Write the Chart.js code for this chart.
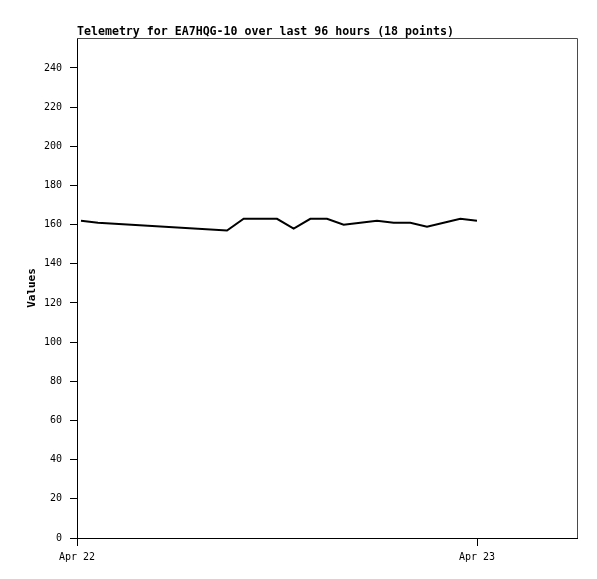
<!DOCTYPE html>
<html>
<head>
<meta charset="utf-8">
<script src="https://cdn.jsdelivr.net/npm/chart.js@4/dist/chart.umd.min.js"></script>
<style>
  html, body { margin: 0; padding: 0; background: #fff; }
  #chart { display: block; }
</style>
</head>
<body>
<canvas id="chart" width="597" height="579"></canvas>
<script>
// hours since Apr 22 00:00
const hours = [0.24, 1.26, 9, 10, 11, 12, 13, 14, 15, 16, 17, 18, 19, 20, 21, 22, 23, 24];
const values = [162, 161, 157, 163, 163, 163, 158, 163, 163, 160, 161, 162, 161, 161, 159, 161, 163, 162];
const xTicks = [0, 24];
const xTickLabels = ['Apr 22', 'Apr 23'];
const yTicks = [0, 20, 40, 60, 80, 100, 120, 140, 160, 180, 200, 220, 240];
const titleText = 'Telemetry for EA7HQG-10 over last 96 hours (18 points)';

const mono = "'DejaVu Sans Mono', monospace";

const framePlugin = {
  id: 'frame',
  afterDraw(chart) {
    const { ctx, chartArea: a } = chart;
    ctx.save();
    ctx.strokeStyle = '#4a4a4a';
    ctx.lineWidth = 1;
    ctx.beginPath();
    ctx.moveTo(a.left, a.top + 0.5);
    ctx.lineTo(a.right + 0.5, a.top + 0.5);
    ctx.lineTo(a.right + 0.5, a.bottom);
    ctx.stroke();
    ctx.fillStyle = '#000';
    ctx.font = 'bold 11.6px ' + mono;
    ctx.textBaseline = 'alphabetic';
    ctx.fillText(titleText, a.left, 35);
    ctx.restore();
  }
};

new Chart(document.getElementById('chart'), {
  type: 'line',
  data: {
    datasets: [{
      data: hours.map((h, i) => ({ x: h, y: values[i] })),
      borderColor: '#000',
      borderWidth: 2,
      pointRadius: 0,
      tension: 0,
      fill: false
    }]
  },
  options: {
    responsive: false,
    animation: false,
    layout: { padding: { top: 38, right: 20, left: 26, bottom: 0 } },
    plugins: { legend: { display: false }, tooltip: { enabled: false } },
    scales: {
      x: {
        type: 'linear',
        min: 0,
        max: 30,
        afterBuildTicks(s) { s.ticks = xTicks.map(v => ({ value: v })); },
        afterFit(s) { s.height = 41; },
        ticks: {
          color: '#000',
          font: { family: mono, size: 10 },
          padding: 5,
          maxRotation: 0,
          autoSkip: false,
          callback: (v) => xTickLabels[xTicks.indexOf(v)]
        },
        grid: { drawOnChartArea: false, tickLength: 8, color: '#000' },
        border: { color: '#000', width: 1 }
      },
      y: {
        min: 0,
        max: 255.3,
        afterBuildTicks(s) { s.ticks = yTicks.map(v => ({ value: v })); },
        afterFit(s) { s.width = 51; },
        ticks: {
          color: '#000',
          font: { family: mono, size: 10 },
          padding: 8,
          autoSkip: false
        },
        grid: { drawOnChartArea: false, tickLength: 7, color: '#000' },
        border: { color: '#000', width: 1 },
        title: {
          display: true,
          text: 'Values',
          color: '#000',
          font: { family: mono, size: 11, weight: 'bold' },
          padding: { top: 0, bottom: 0 }
        }
      }
    }
  },
  plugins: [framePlugin]
});
</script>
</body>
</html>
